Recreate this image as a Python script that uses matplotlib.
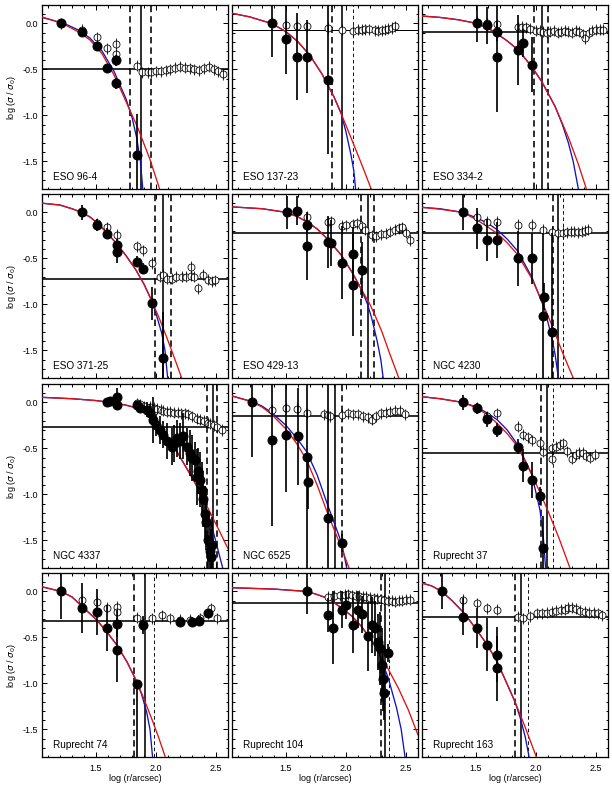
import matplotlib
matplotlib.use("Agg")
import matplotlib.pyplot as plt
from matplotlib.ticker import MultipleLocator

plt.rcParams['font.family'] = ['Liberation Sans', 'DejaVu Sans']

NAMES = ["ESO 96-4", "ESO 137-23", "ESO 334-2",
         "ESO 371-25", "ESO 429-13", "NGC 4230",
         "NGC 4337", "NGC 6525", "Ruprecht 37",
         "Ruprecht 74", "Ruprecht 104", "Ruprecht 163"]

BACKGROUND = [-0.50, -0.075, -0.09, -0.724, -0.228, -0.228,
              -0.264, -0.148, -0.546, -0.322, -0.13, -0.275]

# limiting radius (s), its bounds (d thick dashed / t thin dashed)
VLINES = [
    [(1.783, 'd'), (1.878, 's'), (1.956, 'd')],
    [(1.88, 'd'), (1.964, 's'), (2.056, 't')],
    [(1.986, 'd'), (2.047, 's'), (2.103, 'd')],
    [(1.992, 'd'), (2.056, 's'), (2.125, 'd')],
    [(2.125, 'd'), (2.18, 's'), (2.236, 'd')],
    [(2.139, 'd'), (2.186, 's'), (2.228, 't')],
    [(2.428, 'd'), (2.478, 's'), (2.511, 'd')],
    [(1.908, 's'), (1.97, 'd')],
    [(2.042, 'd'), (2.094, 's'), (2.144, 't')],
    [(1.817, 'd'), (1.908, 's'), (1.983, 't')],
    [(2.289, 'd'), (2.325, 's'), (2.361, 't')],
    [(1.825, 'd'), (1.875, 's'), (1.93, 't')],
]

# background-subtracted profile (filled)
FILLED_X = [
    [1.21, 1.38, 1.51, 1.59, 1.67, 1.67, 1.84],
    [1.38, 1.50, 1.594, 1.672, 1.853],
    [1.506, 1.594, 1.672, 1.672, 1.853, 1.894, 1.964],
    [1.381, 1.506, 1.589, 1.672, 1.672, 1.839, 1.894, 1.964, 2.056],
    [1.506, 1.594, 1.672, 1.672, 1.847, 1.875, 1.964, 2.056, 2.061, 2.13],
    [1.389, 1.506, 1.594, 1.678, 1.847, 1.964, 2.069, 2.061, 2.13],
    [1.589, 1.62, 1.672, 1.672, 1.839, 1.87, 1.922, 1.95, 1.978, 2.0, 2.03, 2.061, 2.09,
     2.13, 2.15, 2.172, 2.2, 2.228, 2.256, 2.28, 2.3, 2.325, 2.339, 2.35, 2.367, 2.38,
     2.39, 2.408, 2.42, 2.436, 2.45, 2.46, 2.47],
    [1.214, 1.38, 1.50, 1.603, 1.672, 1.68, 1.847, 1.964],
    [1.389, 1.506, 1.594, 1.672, 1.847, 1.889, 1.964, 2.033, 2.056],
    [1.208, 1.381, 1.506, 1.589, 1.672, 1.672, 1.839, 1.894, 2.2, 2.3, 2.36, 2.43],
    [1.672, 1.847, 1.894, 1.964, 2.0, 2.056, 2.1, 2.13, 2.186, 2.214, 2.24, 2.27, 2.283,
     2.3, 2.31, 2.32, 2.353],
    [1.214, 1.389, 1.506, 1.594, 1.678, 1.678],
]
FILLED_Y = [
    [0.0, -0.09, -0.25, -0.49, -0.40, -0.65, -1.43],
    [0.0, -0.17, -0.36, -0.36, -0.615],
    [0.0, -0.02, -0.09, -0.36, -0.29, -0.21, -0.45],
    [0.0, -0.137, -0.23, -0.354, -0.427, -0.535, -0.61, -0.99, -1.586],
    [0.0, 0.02, -0.137, -0.37, -0.32, -0.33, -0.546, -0.456, -0.79, -0.626],
    [0.0, -0.173, -0.30, -0.30, -0.5, -0.5, -0.916, -1.126, -1.296],
    [0.0, 0.01, 0.06, -0.03, -0.03, -0.06, -0.08, -0.12, -0.19, -0.25, -0.3, -0.35, -0.42,
     -0.48, -0.45, -0.39, -0.42, -0.36, -0.48, -0.55, -0.6, -0.63, -0.81, -0.75, -0.84,
     -0.95, -1.05, -1.21, -1.3, -1.5, -1.62, -1.68, -1.55],
    [0.0, -0.41, -0.354, -0.37, -0.59, -0.86, -1.26, -1.53],
    [0.0, -0.065, -0.184, -0.3, -0.48, -0.69, -0.843, -1.02, -1.586],
    [0.0, -0.184, -0.22, -0.40, -0.35, -0.637, -1.01, -0.365, -0.33, -0.33, -0.32, -0.24],
    [0.0, -0.257, -0.394, -0.2, -0.15, -0.365, -0.2, -0.25, -0.49, -0.365, -0.4, -0.55,
     -0.62, -0.8, -0.95, -1.1, -0.67],
    [0.0, -0.275, -0.40, -0.58, -0.69, -0.836],
]
# error: symmetric value or [lower, upper]
FILLED_ERR = [
    [0.04, 0.04, 0.04, 0.04, 0.06, 0.06, 0.45],
    [0.36, 0.38, 0.47, 0.40, 0.80],
    [0.2, 0.2, 0.1, 0.6, 0.38, 0.15, 0.3],
    [0.08, 0.06, 0.06, 0.06, 0.12, 0.06, 0.06, 0.18, 0.5],
    [0.18, 0.16, 0.1, 0.37, 0.28, 0.25, 0.4, 0.3, 0.55, 0.3],
    [0.19, 0.22, 0.23, 0.2, 0.3, 0.28, 0.15, 0.9, 1.07],
    [0.05, 0.05, 0.1, 0.05, 0.05, 0.06, 0.08, 0.1, 0.25, 0.12, 0.15, 0.15, 0.2,
     0.2, 0.2, 0.2, 0.2, 0.25, 0.2, 0.25, 0.25, 0.2, 0.3, 0.25, 0.3,
     0.3, 0.3, 0.3, 0.3, 0.3, 0.3, 0.3, 0.3],
    [0.59, 0.93, 0.62, 0.53, 1.3, 0.3, 1.5, 0.1],
    [0.08, 0.06, 0.08, 0.08, 0.08, 0.18, 0.2, 0.1, 0.35],
    [0.3, 0.27, 0.25, 0.25, 0.15, 0.35, [0.9, 0.0], 0.1, 0.05, 0.05, 0.05, 0.05],
    [0.25, 0.18, 0.4, 0.2, 0.15, 0.3, 0.2, 0.2, 0.37, 0.3, 0.3, 0.3, 0.4, 0.4, 0.35, 0.3, 0.1],
    [0.19, 0.2, 0.22, 0.29, 0.3, 0.35],
]

# profile including background (open)
OPEN_X = [
    [1.21, 1.38, 1.51, 1.59, 1.67, 1.67, 1.84, 1.88, 1.93, 1.96, 2.0, 2.04, 2.08, 2.12,
     2.16, 2.2, 2.24, 2.28, 2.32, 2.36, 2.4, 2.44, 2.48, 2.52, 2.56],
    [1.50, 1.594, 1.672, 1.847, 1.964, 2.056, 2.10, 2.13, 2.16, 2.19, 2.24, 2.27, 2.30,
     2.325, 2.35, 2.38, 2.41],
    [1.506, 1.594, 1.672, 1.853, 1.88, 1.92, 1.95, 2.0, 2.03, 2.06, 2.09, 2.12, 2.15, 2.18,
     2.21, 2.24, 2.27, 2.3, 2.33, 2.36, 2.39, 2.41, 2.44, 2.47, 2.5, 2.53, 2.56],
    [1.381, 1.506, 1.589, 1.672, 1.839, 1.894, 1.964, 2.03, 2.056, 2.09, 2.13, 2.17, 2.214,
     2.25, 2.289, 2.289, 2.32, 2.353, 2.394, 2.436, 2.47, 2.49],
    [1.672, 1.847, 1.875, 1.964, 2.0, 2.056, 2.09, 2.13, 2.16, 2.214, 2.25, 2.29, 2.33,
     2.37, 2.41, 2.44, 2.464, 2.5, 2.53],
    [1.506, 1.594, 1.678, 1.847, 1.964, 2.061, 2.13, 2.186, 2.228, 2.26, 2.29, 2.32, 2.35,
     2.38, 2.408, 2.43],
    [1.839, 1.87, 1.9, 1.95, 1.98, 2.01, 2.04, 2.061, 2.09, 2.12, 2.15, 2.18, 2.21, 2.24,
     2.27, 2.3, 2.339, 2.37, 2.4, 2.43, 2.45, 2.48, 2.51, 2.547],
    [1.38, 1.50, 1.594, 1.672, 1.82, 1.847, 1.87, 1.964, 2.02, 2.06, 2.10, 2.14, 2.18,
     2.214, 2.25, 2.29, 2.33, 2.37, 2.41, 2.45, 2.492],
    [1.506, 1.594, 1.672, 1.847, 1.894, 1.93, 1.964, 2.033, 2.061, 2.13, 2.13, 2.17, 2.2,
     2.228, 2.26, 2.297, 2.33, 2.36, 2.39, 2.42, 2.45, 2.49],
    [1.381, 1.506, 1.589, 1.672, 1.672, 1.839, 1.894, 1.964, 2.047, 2.117, 2.2, 2.283,
     2.367, 2.436, 2.455, 2.506],
    [1.847, 1.9, 1.95, 1.99, 2.019, 2.05, 2.08, 2.11, 2.14, 2.17, 2.2, 2.23, 2.26, 2.29,
     2.32, 2.35, 2.38, 2.41, 2.44, 2.47, 2.5, 2.53],
    [1.389, 1.506, 1.594, 1.678, 1.853, 1.894, 1.95, 2.006, 2.05, 2.09, 2.13, 2.17, 2.21,
     2.242, 2.27, 2.297, 2.33, 2.37, 2.408, 2.44, 2.48, 2.519, 2.547],
]
OPEN_Y = [
    [0.0, -0.07, -0.15, -0.27, -0.22, -0.33, -0.46, -0.53, -0.53, -0.53, -0.52, -0.52,
     -0.51, -0.5, -0.48, -0.47, -0.48, -0.49, -0.5, -0.51, -0.49, -0.47, -0.5, -0.52, -0.55],
    [-0.02, -0.03, -0.03, -0.05, -0.07, -0.08, -0.07, -0.07, -0.065, -0.065, -0.075, -0.08,
     -0.075, -0.07, -0.06, -0.05, -0.03],
    [0.02, 0.0, -0.01, -0.035, -0.035, -0.04, -0.06, -0.08, -0.08, -0.09, -0.1, -0.09,
     -0.08, -0.1, -0.09, -0.08, -0.09, -0.1, -0.08, -0.09, -0.12, -0.16, -0.1, -0.08,
     -0.07, -0.07, -0.07],
    [0.0, -0.12, -0.16, -0.245, -0.37, -0.41, -0.55, -0.70, -0.68, -0.72, -0.72, -0.70,
     -0.70, -0.70, -0.59, -0.69, -0.70, -0.825, -0.68, -0.73, -0.75, -0.74],
    [-0.046, -0.108, -0.095, -0.144, -0.14, -0.13, -0.12, -0.15, -0.19, -0.25, -0.26,
     -0.24, -0.23, -0.21, -0.19, -0.17, -0.16, -0.22, -0.3],
    [-0.05, -0.1, -0.1, -0.137, -0.137, -0.19, -0.21, -0.228, -0.22, -0.215, -0.21, -0.21,
     -0.215, -0.21, -0.2, -0.19],
    [-0.01, -0.02, -0.04, -0.05, -0.06, -0.07, -0.08, -0.09, -0.1, -0.1, -0.11, -0.11,
     -0.12, -0.12, -0.13, -0.15, -0.18, -0.19, -0.2, -0.22, -0.23, -0.25, -0.27, -0.3],
    [-0.08, -0.06, -0.07, -0.12, -0.13, -0.14, -0.15, -0.137, -0.12, -0.13, -0.13, -0.15,
     -0.16, -0.19, -0.15, -0.12, -0.11, -0.1, -0.09, -0.09, -0.13],
    [-0.06, -0.15, -0.12, -0.264, -0.354, -0.38, -0.41, -0.445, -0.536, -0.5, -0.61, -0.48,
     -0.46, -0.445, -0.53, -0.61, -0.57, -0.55, -0.55, -0.58, -0.6, -0.57],
    [-0.093, -0.112, -0.177, -0.166, -0.228, -0.285, -0.347, -0.293, -0.257, -0.293, -0.31,
     -0.31, -0.293, -0.238, -0.184, -0.293],
    [-0.057, -0.05, -0.04, -0.035, -0.03, -0.04, -0.045, -0.05, -0.06, -0.06, -0.07, -0.075,
     -0.08, -0.085, -0.09, -0.1, -0.1, -0.11, -0.1, -0.1, -0.09, -0.09],
    [-0.093, -0.13, -0.184, -0.20, -0.275, -0.29, -0.27, -0.24, -0.24, -0.23, -0.22, -0.21,
     -0.2, -0.2, -0.18, -0.176, -0.19, -0.21, -0.22, -0.23, -0.23, -0.24, -0.26],
]

# fitted models (red and blue)
RED_X = [
    [1.05, 1.15, 1.25, 1.35, 1.45, 1.55, 1.65, 1.75, 1.85, 1.95, 2.03],
    [1.05, 1.2, 1.3, 1.38, 1.5, 1.6, 1.7, 1.8, 1.9, 1.96, 2.05, 2.13, 2.21],
    [1.05, 1.2, 1.35, 1.506, 1.6, 1.672, 1.76, 1.853, 1.964, 2.047, 2.158, 2.27, 2.35, 2.42],
    [1.05, 1.2, 1.3, 1.381, 1.45, 1.506, 1.59, 1.672, 1.75, 1.83, 1.9, 1.964, 2.03, 2.09, 2.15, 2.214],
    [1.05, 1.3, 1.506, 1.6, 1.672, 1.76, 1.847, 1.964, 2.05, 2.13, 2.2, 2.242, 2.3, 2.36, 2.44],
    [1.05, 1.2, 1.389, 1.506, 1.6, 1.678, 1.76, 1.847, 1.964, 2.05, 2.13, 2.22, 2.31],
    [1.05, 1.3, 1.5, 1.65, 1.75, 1.839, 1.9, 1.978, 2.07, 2.172, 2.311, 2.422, 2.533, 2.6],
    [1.05, 1.214, 1.3, 1.38, 1.5, 1.59, 1.672, 1.76, 1.847, 1.964, 2.025],
    [1.05, 1.2, 1.389, 1.506, 1.6, 1.678, 1.76, 1.847, 1.964, 2.03, 2.103, 2.19, 2.283],
    [1.05, 1.208, 1.3, 1.381, 1.506, 1.59, 1.672, 1.76, 1.839, 1.9, 1.96, 2.02, 2.08],
    [1.05, 1.4, 1.672, 1.75, 1.847, 1.964, 2.05, 2.13, 2.2, 2.27, 2.35, 2.436, 2.52, 2.6],
    [1.05, 1.13, 1.214, 1.3, 1.389, 1.45, 1.506, 1.594, 1.678, 1.75, 1.825, 1.908, 2.006],
]
RED_Y = [
    [0.07, 0.03, -0.02, -0.09, -0.18, -0.33, -0.56, -0.85, -1.14, -1.48, -1.8],
    [0.11, 0.07, 0.03, 0.0, -0.09, -0.2, -0.35, -0.55, -0.8, -0.98, -1.27, -1.53, -1.8],
    [0.08, 0.065, 0.04, 0.0, -0.05, -0.11, -0.19, -0.29, -0.47, -0.63, -0.9, -1.24, -1.52, -1.8],
    [0.1, 0.08, 0.04, 0.0, -0.05, -0.11, -0.22, -0.34, -0.47, -0.62, -0.78, -0.96, -1.16, -1.36, -1.57, -1.8],
    [0.06, 0.04, 0.0, -0.05, -0.1, -0.18, -0.29, -0.47, -0.65, -0.84, -1.0, -1.12, -1.3, -1.52, -1.8],
    [0.055, 0.035, 0.0, -0.08, -0.16, -0.23, -0.33, -0.46, -0.717, -0.97, -1.22, -1.52, -1.8],
    [0.055, 0.04, 0.02, -0.005, -0.03, -0.06, -0.1, -0.19, -0.34, -0.53, -0.84, -1.12, -1.41, -1.59],
    [0.07, 0.007, -0.05, -0.13, -0.29, -0.45, -0.626, -0.9, -1.206, -1.586, -1.8],
    [0.062, 0.04, 0.0, -0.06, -0.14, -0.23, -0.34, -0.48, -0.78, -0.97, -1.19, -1.47, -1.8],
    [0.05, 0.0, -0.06, -0.16, -0.31, -0.44, -0.58, -0.77, -0.98, -1.17, -1.37, -1.58, -1.81],
    [0.04, 0.025, 0.0, -0.03, -0.075, -0.18, -0.27, -0.383, -0.51, -0.655, -0.84, -1.05, -1.29, -1.56],
    [0.09, 0.06, 0.0, -0.1, -0.22, -0.32, -0.42, -0.58, -0.77, -0.98, -1.2, -1.47, -1.81],
]
BLUE_X = [
    [1.05, 1.15, 1.25, 1.35, 1.45, 1.55, 1.65, 1.75, 1.80, 1.84, 1.87, 1.89],
    [1.05, 1.2, 1.3, 1.38, 1.5, 1.6, 1.7, 1.8, 1.9, 1.96, 2.0, 2.04, 2.065, 2.08],
    [1.05, 1.2, 1.35, 1.506, 1.6, 1.672, 1.76, 1.853, 1.964, 2.047, 2.158, 2.22, 2.27, 2.31, 2.353],
    [1.05, 1.2, 1.3, 1.381, 1.45, 1.506, 1.59, 1.672, 1.75, 1.83, 1.9, 1.964, 2.0, 2.047, 2.075, 2.097],
    [1.05, 1.3, 1.506, 1.6, 1.672, 1.76, 1.847, 1.964, 2.05, 2.13, 2.18, 2.214, 2.26, 2.29, 2.31],
    [1.05, 1.2, 1.389, 1.506, 1.6, 1.678, 1.76, 1.847, 1.964, 2.069, 2.13, 2.16, 2.186],
    [1.05, 1.3, 1.5, 1.65, 1.75, 1.839, 1.9, 1.978, 2.07, 2.172, 2.311, 2.367, 2.42, 2.46, 2.506, 2.556],
    [1.05, 1.214, 1.3, 1.38, 1.5, 1.59, 1.672, 1.76, 1.847, 1.964, 2.006],
    [1.05, 1.2, 1.389, 1.506, 1.6, 1.678, 1.76, 1.847, 1.964, 2.033, 2.06, 2.08],
    [1.05, 1.208, 1.3, 1.381, 1.506, 1.59, 1.672, 1.76, 1.839, 1.88, 1.922, 1.95, 1.972],
    [1.05, 1.4, 1.672, 1.75, 1.847, 1.964, 2.05, 2.13, 2.2, 2.27, 2.353, 2.422, 2.46, 2.492],
    [1.05, 1.13, 1.214, 1.3, 1.389, 1.45, 1.506, 1.594, 1.678, 1.75, 1.825, 1.87, 1.91, 1.944],
]
BLUE_Y = [
    [0.065, 0.03, -0.01, -0.07, -0.16, -0.30, -0.52, -0.82, -1.02, -1.25, -1.5, -1.8],
    [0.11, 0.07, 0.03, 0.0, -0.09, -0.2, -0.35, -0.55, -0.8, -0.98, -1.18, -1.42, -1.6, -1.8],
    [0.08, 0.065, 0.04, 0.0, -0.05, -0.11, -0.19, -0.29, -0.47, -0.63, -0.9, -1.1, -1.3, -1.5, -1.8],
    [0.1, 0.08, 0.04, 0.0, -0.05, -0.11, -0.22, -0.34, -0.47, -0.62, -0.78, -0.96, -1.1, -1.31, -1.5, -1.8],
    [0.06, 0.04, 0.0, -0.05, -0.1, -0.18, -0.29, -0.47, -0.65, -0.84, -1.0, -1.15, -1.4, -1.6, -1.8],
    [0.055, 0.04, 0.0, -0.06, -0.12, -0.19, -0.29, -0.42, -0.70, -1.04, -1.35, -1.55, -1.8],
    [0.055, 0.04, 0.02, -0.005, -0.03, -0.06, -0.1, -0.19, -0.34, -0.53, -0.84, -0.98, -1.15, -1.32, -1.55, -1.8],
    [0.07, 0.01, -0.04, -0.11, -0.25, -0.39, -0.535, -0.79, -1.115, -1.53, -1.8],
    [0.062, 0.04, 0.0, -0.05, -0.12, -0.19, -0.3, -0.46, -0.78, -1.17, -1.45, -1.8],
    [0.05, 0.0, -0.06, -0.16, -0.31, -0.44, -0.58, -0.77, -0.98, -1.12, -1.31, -1.5, -1.81],
    [0.04, 0.025, 0.0, -0.03, -0.075, -0.18, -0.27, -0.383, -0.51, -0.655, -0.945, -1.27, -1.5, -1.8],
    [0.09, 0.06, 0.0, -0.1, -0.22, -0.32, -0.42, -0.58, -0.77, -0.98, -1.2, -1.38, -1.58, -1.81],
]

XTICKS = [1.5, 2.0, 2.5]
YTICKS = [0.0, -0.5, -1.0, -1.5]

W, H = 612, 792
fig = plt.figure(figsize=(W / 72, H / 72), dpi=72)
col_left = [42, 232, 422]
row_top = [5, 194, 384, 573]
aw, ah = 186, 184


def split_err(errs):
    lo, hi = [], []
    for e in errs:
        if isinstance(e, (list, tuple)):
            lo.append(e[0]); hi.append(e[1])
        else:
            lo.append(e); hi.append(e)
    return [lo, hi]


for i, name in enumerate(NAMES):
    r, c = divmod(i, 3)
    ax = fig.add_axes([col_left[c] / W, 1 - (row_top[r] + ah) / H, aw / W, ah / H])
    ax.set_xlim(1.05, 2.6)
    ax.set_ylim(-1.8, 0.2)

    ax.axhline(BACKGROUND[i], color='black', lw=1.0 if i == 1 else 1.6, zorder=2)
    for xv, st in VLINES[i]:
        if st == 's':
            ax.axvline(xv, color='black', lw=1.6, zorder=2)
        elif st == 'd':
            ax.axvline(xv, color='black', lw=1.6, ls=(0, (4, 2.5)), zorder=2)
        else:
            ax.axvline(xv, color='black', lw=0.9, ls=(0, (4, 3)), zorder=2)

    ax.plot(BLUE_X[i], BLUE_Y[i], color='#1010c0', lw=1.3, zorder=3)
    ax.plot(RED_X[i], RED_Y[i], color='#e01010', lw=1.3, zorder=3)

    ax.errorbar(OPEN_X[i], OPEN_Y[i], yerr=0.06, fmt='o', ms=7, mfc='white',
                mec='black', mew=0.8, ecolor='black', elinewidth=0.8, capsize=0, zorder=4)
    # vertical bar visible through the open circles
    ax.errorbar(OPEN_X[i], OPEN_Y[i], yerr=0.04, fmt='none', ecolor='black',
                elinewidth=0.8, capsize=0, zorder=4.5)
    ax.errorbar(FILLED_X[i], FILLED_Y[i], yerr=split_err(FILLED_ERR[i]), fmt='o', ms=9,
                color='black', ecolor='black', elinewidth=1.7, capsize=0, zorder=5)

    ax.text(0.06, 0.04, name, transform=ax.transAxes, fontsize=10, ha='left', va='bottom',
            zorder=6)

    ax.xaxis.set_major_locator(MultipleLocator(0.5))
    ax.xaxis.set_minor_locator(MultipleLocator(0.1))
    ax.yaxis.set_major_locator(MultipleLocator(0.5))
    ax.yaxis.set_minor_locator(MultipleLocator(0.1))
    ax.tick_params(which='both', direction='in', top=True, right=True, width=1.0,
                   labelsize=9)
    ax.tick_params(axis='x', pad=7)
    ax.tick_params(which='major', length=5)
    ax.tick_params(which='minor', length=2.5)
    for s in ax.spines.values():
        s.set_linewidth(1.3)

    if c == 0:
        ax.set_yticks(YTICKS)
        ax.set_yticklabels(['%.1f' % v for v in YTICKS])
        ax.set_ylabel(r'log ($\sigma$ / $\sigma_0$)', fontsize=9, labelpad=5)
    else:
        ax.set_yticklabels([])
    if r == 3:
        ax.set_xticks(XTICKS)
        ax.set_xticklabels(['%.1f' % v for v in XTICKS])
        ax.set_xlabel('log (r/arcsec)', fontsize=9, labelpad=1)
    else:
        ax.set_xticklabels([])

fig.savefig('out.png', dpi=72)
